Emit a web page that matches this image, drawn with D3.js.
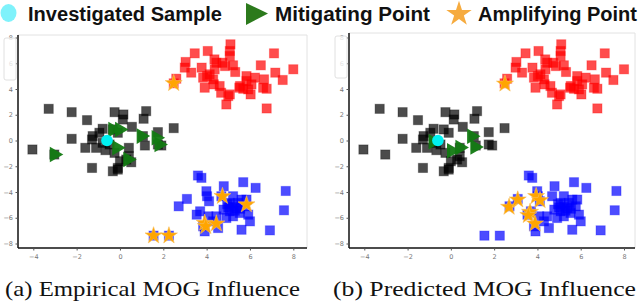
<!DOCTYPE html>
<html>
<head>
<meta charset="utf-8">
<script src="https://cdn.jsdelivr.net/npm/d3@7"></script>
<style>
  body { margin: 0; background: #fff; }
  svg { display: block; }
</style>
</head>
<body>
<script>
// Data
const redPts = [
  [5.1, 7.47], [5.07, 6.95], [5.07, 6.56], [7.11, 6.77], [3.45, 6.77], [4.05, 6.95],
  [3.03, 6.1], [2.99, 5.66], [2.6, 4.8], [3.29, 5.27], [3.77, 5.66], [4.36, 6.3],
  [4.73, 6.04], [4.85, 5.78], [4.37, 5.53], [4.14, 5.14], [4.3, 4.75], [3.91, 4.1],
  [4.67, 3.71], [5.0, 3.45], [4.91, 2.8], [5.32, 5.32], [5.84, 5.0], [6.23, 4.88],
  [6.5, 5.84], [7.17, 5.27], [8.0, 5.53], [7.51, 4.7], [6.65, 4.75], [6.03, 3.58],
  [5.69, 4.02], [5.51, 4.1], [5.92, 3.97], [6.61, 4.1], [6.77, 4.02], [6.77, 2.49],
  [4.6, 4.23], [4.33, 4.36], [5.22, 5.84], [3.84, 4.88], [4.02, 5.0], [5.84, 4.62],
  [6.07, 4.36], [5.07, 3.58], [4.45, 6.04], [5.54, 4.23], [2.48, 4.44]
];
const blackPts = [
  [-3.29, 2.46], [-2.23, 2.2], [-1.52, 1.58], [-2.23, 0.13], [-4.04, -0.7], [-3.03, -1.09],
  [-0.25, 2.2], [0.16, 2.02], [0.13, 1.63], [1.21, 2.28], [1.09, 1.69], [0.55, 1.06],
  [2.48, 0.96], [1.75, 0.65], [1.06, 0.34], [1.15, -0.39], [1.75, -0.31], [1.91, -0.39],
  [-0.8, 0.91], [-0.95, 0.6], [-1.26, 0.34], [-1.29, 0.08], [-1.6, -0.57], [-1.1, -0.57],
  [-0.67, -0.75], [0.41, -0.57], [0.41, -1.22], [0.52, -1.69], [0.0, -1.61], [-0.1, -2.13],
  [-0.33, -2.39], [-0.1, -2.26], [-1.29, -2.13], [-0.33, 0.86], [-0.1, 0.6], [-0.48, -0.31],
  [-0.8, -0.18], [-0.25, -0.96], [0.29, -1.48]
];
const bluePts = [
  [3.6, -2.72], [3.76, -2.9], [4.79, -3.55], [5.69, -3.24], [6.26, -3.68], [7.65, -3.92],
  [3.99, -3.94], [4.02, -4.33], [4.11, -4.72], [3.09, -4.54], [2.71, -5.11], [4.68, -4.33],
  [5.22, -4.33], [5.61, -4.59], [5.07, -4.85], [5.38, -5.24], [5.77, -5.11], [5.07, -5.5],
  [5.53, -5.63], [5.92, -5.76], [3.7, -5.5], [3.54, -5.76], [4.08, -5.89], [4.45, -5.89],
  [4.91, -6.02], [5.22, -5.89], [6.0, -6.28], [3.84, -6.67], [4.53, -6.8], [5.61, -6.93],
  [6.92, -6.98], [7.57, -5.42], [3.91, -7.06], [1.55, -7.39], [2.26, -7.39], [4.3, -6.28],
  [5.22, -5.11], [5.45, -4.85], [4.78, -5.37], [5.84, -4.59],
  [5.0, -5.2], [5.3, -5.45], [4.95, -4.95], [5.55, -5.3]
];
const investigated = [-0.6, 0.0];

const mitigatingA = [[-3.03, -1.09], [-0.33, 0.86], [-0.02, 0.86], [-0.15, -0.57], [0.98, 0.34], [1.67, 0.21], [1.8, -0.31], [0.36, -1.48]];
const amplifyingA = [[2.48, 4.44], [4.73, -4.33], [5.84, -4.98], [3.91, -6.41], [3.96, -6.67], [4.45, -6.46], [1.55, -7.39], [2.26, -7.39]];
const mitigatingB = [[0.96, 0.33], [1.11, -0.5], [0.42, -0.55], [0.03, -0.8], [-0.82, -0.1]];
const amplifyingB = [[2.5, 4.4], [2.69, -5.17], [3.09, -4.6], [3.94, -4.33], [4.12, -4.65], [3.66, -5.56], [3.58, -5.81], [3.89, -6.46]];

const xTicks = [-4, -2, 0, 2, 4, 6, 8];
const yTicks = [-8, -6, -4, -2, 0, 2, 4, 6, 8];
const legendItems = ["Investigated Sample", "Mitigating Point", "Amplifying Point"];
const captions = ["(a) Empirical MOG Influence", "(b) Predicted MOG Influence"];

const svg = d3.select("body").append("svg").attr("width", 640).attr("height", 305);

const panels = [
  { frame: [18, 35, 307, 248], xr: [33.3, 293.3], mit: mitigatingA, amp: amplifyingA, cap: captions[0], capX: 5, capW: 295 },
  { frame: [349, 33, 635, 248], xr: [364.3, 624], mit: mitigatingB, amp: amplifyingB, cap: captions[1], capX: 333, capW: 303 }
];

const fmt = d => d < 0 ? "\u2212" + Math.abs(d) : String(d);
const sq = 9.2;
const tri = d3.symbol().type(d3.symbolTriangle).size(105);
const star = d3.symbol().type(d3.symbolStar).size(90);

panels.forEach(p => {
  const [l, t, r, b] = p.frame;
  const x = d3.scaleLinear().domain([-4, 8]).range(p.xr);
  const y = d3.scaleLinear().domain([-8, 8]).range([243.5, 37.5]);
  const g = svg.append("g");

  // light top/right frame
  g.append("path").attr("d", `M${l},${t}H${r}V${b}`).attr("fill", "none").attr("stroke", "#e2e2e2").attr("stroke-width", 1);

  // axes
  const xa = g.append("g").attr("transform", `translate(0,${b})`)
    .call(d3.axisBottom(x).tickValues(xTicks).tickFormat(fmt).tickSize(2.5));
  xa.select(".domain").attr("d", `M${l},0H${r}`).attr("stroke", "#111").attr("stroke-width", 1.5);
  xa.selectAll(".tick line").attr("stroke", "#555");
  xa.selectAll("text").attr("font-family", "DejaVu Sans").attr("font-size", 6.5).attr("fill", "#777").attr("dy", "0.9em");

  const ya = g.append("g").attr("transform", `translate(${l},0)`)
    .call(d3.axisLeft(y).tickValues(yTicks).tickFormat(fmt).tickSize(2.5));
  ya.select(".domain").attr("d", `M0,${t}V${b}`).attr("stroke", "#111").attr("stroke-width", 1.5);
  ya.selectAll(".tick line").attr("stroke", "#555");
  ya.selectAll("text").attr("font-family", "DejaVu Sans").attr("font-size", 6.5).attr("fill", "#777")
    .attr("x", -5);

  // faint legend remnant box
  g.append("rect").attr("x", l - 14).attr("y", t + 3).attr("width", 12).attr("height", 42).attr("rx", 2)
    .attr("fill", "#fff").attr("fill-opacity", 0.8).attr("stroke", "#d8d8d8").attr("stroke-width", 0.8);

  // clusters
  const clusters = [[blackPts, "#000"], [redPts, "#ff0000"], [bluePts, "#0000ff"]];
  clusters.forEach(([pts, c]) => {
    g.append("g").selectAll("rect").data(pts).join("rect")
      .attr("x", d => x(d[0]) - sq / 2).attr("y", d => y(d[1]) - sq / 2)
      .attr("width", sq).attr("height", sq)
      .attr("fill", c).attr("fill-opacity", 0.7)
      .attr("stroke", c).attr("stroke-opacity", 0.3).attr("stroke-width", 1);
  });

  g.append("g").selectAll("path").data(p.mit).join("path")
    .attr("d", tri).attr("transform", d => `translate(${x(d[0])},${y(d[1])}) rotate(90)`)
    .attr("fill", "#127a12").attr("fill-opacity", 0.95);

  g.append("circle").attr("cx", x(investigated[0])).attr("cy", y(investigated[1])).attr("r", 5.8)
    .attr("fill", "#00f0f0");

  g.append("g").selectAll("path").data(p.amp).join("path")
    .attr("d", star).attr("transform", d => `translate(${x(d[0])},${y(d[1])})`)
    .attr("fill", "#ffa500").attr("stroke", "#f8c060").attr("stroke-width", 0.6);

  svg.append("text").attr("x", p.capX).attr("y", 296)
    .attr("font-family", "Liberation Serif").attr("font-size", 22).attr("fill", "#111")
    .attr("textLength", p.capW).attr("lengthAdjust", "spacingAndGlyphs")
    .text(p.cap);
});

// top legend
const lg = svg.append("g");
lg.append("ellipse").attr("cx", 8.5).attr("cy", 13).attr("rx", 8).attr("ry", 9).attr("fill", "#7ff2fb");
lg.append("path").attr("d", "M246,3L268,13.5L246,25Z").attr("fill", "#2c7a1c");
lg.append("path").attr("d", d3.symbol().type(d3.symbolStar).size(200))
  .attr("transform", "translate(459,14)").attr("fill", "#f6ab3f");
const lx = [28, 275, 478];
const lw = [194, 155, 159];
legendItems.forEach((s, i) => {
  lg.append("text").attr("x", lx[i]).attr("y", 20.5)
    .attr("font-family", "Liberation Sans").attr("font-weight", "bold").attr("font-size", 19.5)
    .attr("textLength", lw[i]).attr("lengthAdjust", "spacingAndGlyphs")
    .attr("fill", "#111").text(s);
});
</script>
</body>
</html>
